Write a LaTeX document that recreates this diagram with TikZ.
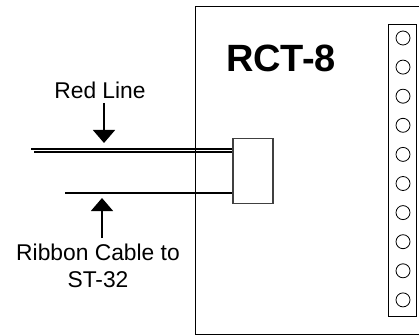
\documentclass[tikz,border=0pt]{standalone}
\usepackage{fontspec}
\setmainfont{Liberation Sans}
\usetikzlibrary{arrows.meta}
\begin{document}
\begin{tikzpicture}[x=1pt,y=-1pt,
  lbl/.style={inner sep=0pt,font=\fontsize{22.8}{27}\selectfont,align=center},
  title/.style={inner sep=0pt,font=\fontsize{38}{40}\selectfont\bfseries},
  cable/.style={line width=1.4pt},
  pointer/.style={line width=1.4pt,-{Triangle[width=22pt,length=13pt]}},
  pin/.style={circle,draw,line width=0.8pt,minimum size=14pt,inner sep=0pt}]
\useasboundingbox (0,0) rectangle (419,336);
\begin{scope}
\clip (0,0) rectangle (419,336);
% main board
\draw[line width=1pt] (425,7) -- (195,7) -- (195,334) -- (425,334);
\node[title] (rct) at (281,58.5) {RCT-8};
% terminal strip
\node[draw,line width=1pt,minimum width=28pt,minimum height=292pt,inner sep=0pt,anchor=north west] (strip) at (388,24) {};
\foreach \i in {0,...,9}{
  \node[pin] (p\i) at (403,{38+\i*29.1}) {};
}
% cables
\coordinate (c1) at (31,149);
\coordinate (c2) at (34,152);
\coordinate (c3) at (65,193);
\node[draw=black!75,fill=white,line width=1.5pt,minimum width=40pt,minimum height=65pt,inner sep=0pt,anchor=north west] (conn) at (232,138) {};
\draw[cable] (c1) -- (c1 -| conn.west);
\draw[cable] (c2) -- (c2 -| conn.west);
\draw[cable] (c3) -- (c3 -| conn.west);
\draw[line width=1pt] (195,7) -- (195,334);
\node[draw=black!75,fill=white,line width=1.5pt,minimum width=40pt,minimum height=65pt,inner sep=0pt,anchor=north west] (conn) at (232,138) {};
% labels
\node[lbl] (red) at (100,90) {Red Line};
\coordinate (ra) at (104,103);
\coordinate (rb) at (104,143);
\draw[pointer] (ra) -- (rb);
\node[lbl] (rib) at (98,266) {Ribbon Cable to\\ST-32};
\coordinate (ba) at (102,238);
\coordinate (bb) at (102,198);
\draw[pointer] (ba) -- (bb);
\end{scope}
\end{tikzpicture}
\end{document}
